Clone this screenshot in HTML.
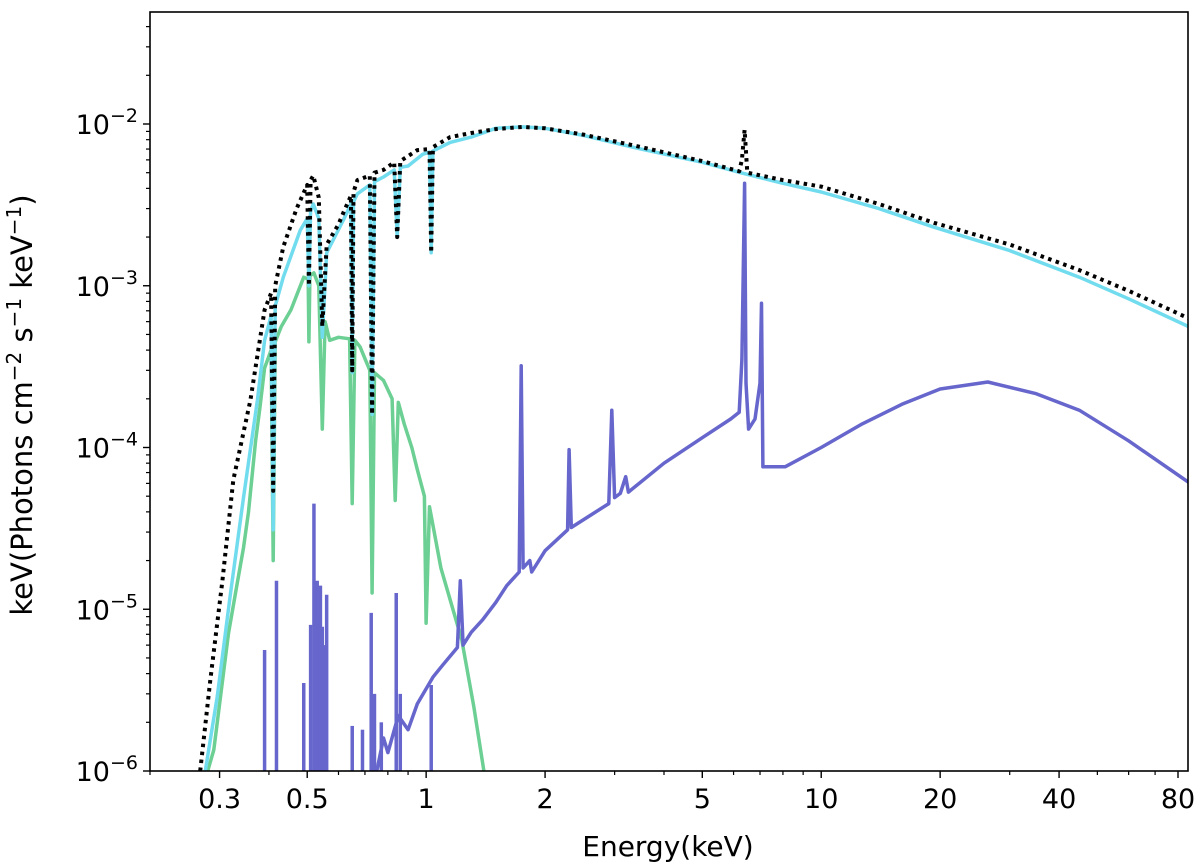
<!DOCTYPE html>
<html><head><meta charset="utf-8"><style>
html,body{margin:0;padding:0;background:#fff;}
svg{display:block;font-family:"DejaVu Sans","Liberation Sans",sans-serif;}
</style></head><body>
<svg id="chart" width="1200" height="864" viewBox="0 0 1200 864">
<defs><clipPath id="clip"><rect x="150" y="12" width="1038" height="759"/></clipPath></defs>
<g id="series" clip-path="url(#clip)"></g>
<g id="axes"></g>
<text x="668" y="856" font-size="28" text-anchor="middle">Energy(keV)</text>
<text transform="translate(32,405) rotate(-90)" font-size="29" text-anchor="middle">keV(Photons cm<tspan dy="-11" font-size="20">−2</tspan><tspan dy="11"> s</tspan><tspan dy="-11" font-size="20">−1</tspan><tspan dy="11"> keV</tspan><tspan dy="-11" font-size="20">−1</tspan><tspan dy="11">)</tspan></text>
</svg>
<script>
const cyanE=[0.276,0.296,0.319,0.345,0.374,0.39,0.405,0.41,0.415,0.435,0.48,0.5,0.505,0.51,0.518,0.535,0.546,0.56,0.57,0.62,0.645,0.65,0.655,0.67,0.72,0.73,0.74,0.78,0.83,0.845,0.86,0.9,0.98,1.02,1.03,1.04,1.15,1.3,1.5,1.76,2.0,2.5,3.5,5,6.25,8,10,14,19.3,30,45,60,85];
const cyanF=[1e-6,2.9e-6,1.2e-5,4.9e-5,1.96e-4,4.6e-4,6.5e-4,3.1e-5,7.5e-4,1.13e-3,2.2e-3,2.6e-3,1.0e-3,2.9e-3,3.2e-3,2.6e-3,4.8e-4,1.6e-3,1.74e-3,2.6e-3,3.2e-3,2.9e-4,3.3e-3,3.7e-3,4.2e-3,1.6e-4,4.4e-3,4.7e-3,5.2e-3,2.0e-3,5.4e-3,5.5e-3,6.5e-3,6.7e-3,1.6e-3,6.8e-3,7.7e-3,8.3e-3,9.4e-3,9.6e-3,9.4e-3,8.5e-3,7.0e-3,5.8e-3,5.0e-3,4.3e-3,3.8e-3,3.0e-3,2.3e-3,1.65e-3,1.13e-3,8.3e-4,5.6e-4];
const greenE=[0.28,0.29,0.316,0.33,0.345,0.355,0.37,0.38,0.39,0.405,0.41,0.415,0.43,0.455,0.49,0.503,0.505,0.508,0.52,0.535,0.546,0.555,0.57,0.6,0.64,0.65,0.66,0.68,0.72,0.73,0.74,0.78,0.82,0.835,0.85,0.88,0.92,0.95,0.99,1.0,1.02,1.09,1.23,1.32,1.40];
const greenF=[1e-6,1.35e-6,7.1e-6,1.3e-5,2.4e-5,4e-5,1.1e-4,1.8e-4,3.1e-4,4e-4,2.0e-5,4.5e-4,5.6e-4,7.1e-4,1.13e-3,1.1e-3,4.5e-4,1.15e-3,1.2e-3,1.0e-3,1.3e-4,6e-4,4.6e-4,4.8e-4,4.7e-4,4.5e-5,4.6e-4,4.2e-4,3e-4,1.26e-5,2.9e-4,2.6e-4,2e-4,4.7e-5,1.9e-4,1.4e-4,1.0e-4,7.3e-5,5e-5,8.2e-6,4.3e-5,1.8e-5,6.5e-6,2.5e-6,1e-6];
const blueE=[0.75,0.78,0.8,0.85,0.9,0.95,1.04,1.1,1.2,1.22,1.24,1.3,1.39,1.5,1.6,1.72,1.74,1.76,1.83,1.85,2.0,2.28,2.3,2.33,2.6,2.9,2.95,3.0,3.1,3.2,3.25,4.0,5.0,5.9,6.2,6.3,6.4,6.45,6.55,6.8,7.0,7.06,7.12,8.1,10,12.7,16,20,26.4,35,45,60,85];
const blueF=[1e-6,1.6e-6,1.3e-6,2.2e-6,1.8e-6,2.6e-6,3.8e-6,4.5e-6,5.8e-6,1.5e-5,6e-6,7.2e-6,8.6e-6,1.1e-5,1.4e-5,1.7e-5,3.2e-4,1.8e-5,2.0e-5,1.7e-5,2.3e-5,3.1e-5,9.7e-5,3.2e-5,3.8e-5,4.5e-5,1.7e-4,4.9e-5,5.2e-5,6.6e-5,5.3e-5,8.0e-5,1.15e-4,1.5e-4,1.65e-4,3.5e-4,4.3e-3,2.5e-4,1.3e-4,1.5e-4,2.5e-4,7.8e-4,7.6e-5,7.6e-5,1.0e-4,1.4e-4,1.85e-4,2.3e-4,2.54e-4,2.15e-4,1.7e-4,1.1e-4,6.1e-5];
const blueLineE=[0.39,0.418,0.49,0.51,0.52,0.525,0.53,0.535,0.54,0.546,0.55,0.56,0.65,0.69,0.726,0.74,0.77,0.84,0.86,1.03];
const blueLineF=[5.6e-6,1.5e-5,3.5e-6,8e-6,4.5e-5,1e-5,1.5e-5,9e-6,1.4e-5,7.8e-6,6e-6,1.23e-5,1.9e-6,1.8e-6,9.5e-6,3e-6,2e-6,1.26e-5,3e-6,3.4e-6];
const blackE=[0.268,0.284,0.305,0.325,0.359,0.39,0.405,0.41,0.415,0.435,0.47,0.5,0.505,0.51,0.518,0.535,0.546,0.56,0.6,0.62,0.645,0.65,0.655,0.67,0.72,0.73,0.74,0.78,0.83,0.845,0.86,0.95,1.02,1.03,1.04,1.15,1.3,1.5,1.76,2.0,2.5,3.5,5,6.2,6.3,6.4,6.5,8,10,14,19.3,30,45,60,85];
const blackF=[1e-6,3.6e-6,1.5e-5,6.3e-5,1.96e-4,7.1e-4,9e-4,5.4e-5,1.0e-3,1.74e-3,3.0e-3,4.2e-3,1.0e-3,4.5e-3,4.8e-3,3.5e-3,5.6e-4,1.8e-3,2.4e-3,2.9e-3,3.6e-3,3.0e-4,3.8e-3,4.5e-3,4.8e-3,1.6e-4,5.0e-3,5.2e-3,5.8e-3,2.0e-3,5.9e-3,6.9e-3,7.0e-3,1.6e-3,7.2e-3,8.3e-3,8.8e-3,9.3e-3,9.6e-3,9.4e-3,8.6e-3,7.2e-3,5.9e-3,5.1e-3,6.0e-3,9.2e-3,5.0e-3,4.5e-3,4.1e-3,3.2e-3,2.45e-3,1.8e-3,1.25e-3,9.3e-4,6.3e-4];
const xTickLabels=["0.3","0.5","1","2","5","10","20","40","80"];
const xTickVals=[0.3,0.5,1,2,5,10,20,40,80];
const yTickExp=[-6,-5,-4,-3,-2];

const NS="http://www.w3.org/2000/svg";
const L=150,R=1188,T=12,B=771,XMIN=0.2,XMAX=84.8,YMIN=-6,DEC=161.75;
function xs(e){return L+(Math.log10(e)-Math.log10(XMIN))/(Math.log10(XMAX)-Math.log10(XMIN))*(R-L);}
function ys(v){return B-(Math.log10(v)-YMIN)*DEC;}
function mk(tag,attrs,parent){const el=document.createElementNS(NS,tag);for(const k in attrs)el.setAttribute(k,attrs[k]);parent.appendChild(el);return el;}
const S=document.getElementById('series'),A=document.getElementById('axes');
function poly(E,F,color,dash,name){
  const pts=E.map((e,i)=>xs(e).toFixed(1)+','+ys(F[i]).toFixed(1)).join(' ');
  const p=mk('polyline',{points:pts,fill:'none',stroke:color,'stroke-width':dash?4:3.5,'stroke-linejoin':'round'},S);
  if(dash)p.setAttribute('stroke-dasharray',dash);
  
  
}
poly(greenE,greenF,'#6ccf93',null,'soft-component-line');
blueLineE.forEach((e,i)=>{
  const l=mk('line',{x1:xs(e),x2:xs(e),y1:B+5,y2:ys(blueLineF[i]),stroke:'#6666cc','stroke-width':3.5},S);
  
  
});
poly(blueE,blueF,'#6666cc',null,'reflection-component-line');
poly(cyanE,cyanF,'#72dcef',null,'total-model-line');
poly(blackE,blackF,'#000','3.5,4.5','data-dotted-line');
const fr=mk('rect',{x:L,y:T,width:R-L,height:B-T,fill:'none',stroke:'#000','stroke-width':1.6},A);


const minor=[];
[0.1,1,10].forEach(d=>{for(let k=2;k<=9;k++)minor.push(k*d);});
minor.filter(v=>v>=XMIN&&v<=XMAX&&xTickVals.indexOf(+v.toFixed(3))<0).forEach(v=>{
  const t=mk('line',{x1:xs(v),x2:xs(v),y1:B,y2:B+4,stroke:'#000','stroke-width':1.2},A);
  
  
});
xTickVals.forEach((v,i)=>{
  const t=mk('line',{x1:xs(v),x2:xs(v),y1:B,y2:B+7,stroke:'#000','stroke-width':1.4},A);
  
  
  const tx=mk('text',{x:xs(v),y:B+37,'font-size':27,'text-anchor':'middle'},A);
  tx.textContent=xTickLabels[i];
  
  
});
for(let e=-6;e<=-2;e++){
  for(let k=2;k<=9;k++){const v=k*Math.pow(10,e);const y=ys(v);if(y<T)continue;
    const t=mk('line',{x1:L-4,x2:L,y1:y,y2:y,stroke:'#000','stroke-width':1.2},A);
    
    }
}
yTickExp.forEach(e=>{
  const y=ys(Math.pow(10,e));
  const t=mk('line',{x1:L-7,x2:L,y1:y,y2:y,stroke:'#000','stroke-width':1.4},A);
  
  
  const tx=mk('text',{x:L-12,y:y+10,'font-size':27,'text-anchor':'end'},A);
  tx.innerHTML='10<tspan dy="-12" font-size="19">−'+(-e)+'</tspan>';
  
  
});
</script>
</body></html>
